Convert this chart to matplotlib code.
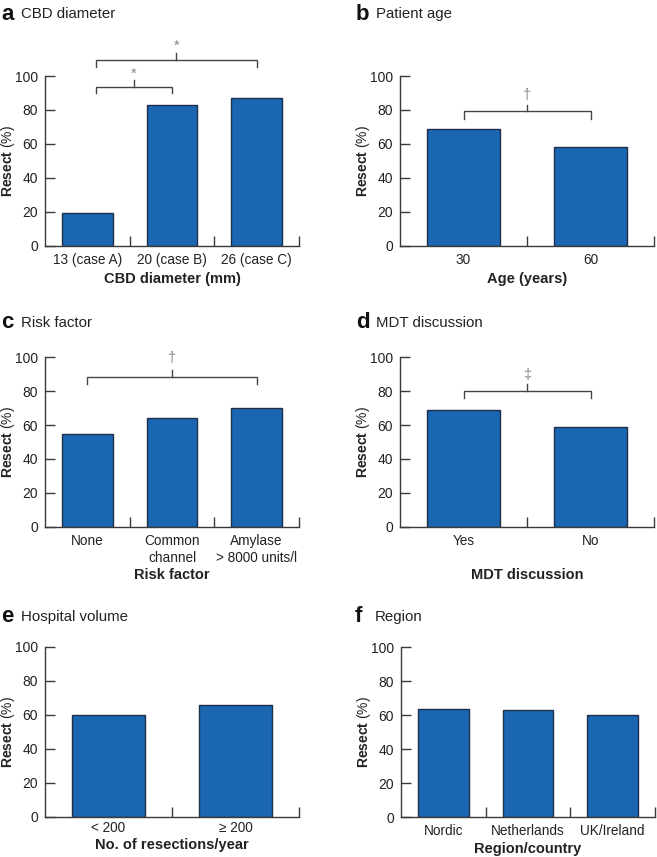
import matplotlib
matplotlib.use("Agg")
import matplotlib.pyplot as plt
from matplotlib.ticker import FixedLocator, NullFormatter, FixedFormatter

plt.rcParams['font.family'] = ['Liberation Sans', 'DejaVu Sans']
plt.rcParams['mathtext.fontset'] = 'custom'
plt.rcParams['mathtext.rm'] = 'Liberation Sans'
plt.rcParams['mathtext.bf'] = 'Liberation Sans:bold'

# ---- data ----
a_cats = ["13 (case A)", "20 (case B)", "26 (case C)"]
a_vals = [19, 83, 87]
b_cats = ["30", "60"]
b_vals = [69, 58]
c_cats = ["None", "Common\nchannel", "Amylase\n> 8000 units/l"]
c_vals = [55, 64, 70]
d_cats = ["Yes", "No"]
d_vals = [69, 59]
e_cats = ["< 200", "\u2265 200"]
e_vals = [60, 66]
f_cats = ["Nordic", "Netherlands", "UK/Ireland"]
f_vals = [64, 63, 60]

titles = ["CBD diameter", "Patient age", "Risk factor", "MDT discussion",
          "Hospital volume", "Region"]
letters = ["a", "b", "c", "d", "e", "f"]
xlabels = ["CBD diameter (mm)", "Age (years)", "Risk factor", "MDT discussion",
           "No. of resections/year", "Region/country"]

# brackets: (x0, x1, y, drop, xmid, tickTop, symbolY, symbol)
brackets = {
    0: [(0.1, 1.0, 93.7, 89.8, 0.55, 97.6, 101.5, "*"),
        (0.1, 2.0, 109.2, 105.5, 1.05, 113.4, 118.0, "*")],
    1: [(0.0, 1.0, 79.4, 74.8, 0.5, 82.9, 88.8, "\u2020")],
    2: [(0.0, 2.0, 88.4, 84.2, 1.0, 92.5, 99.4, "\u2020")],
    3: [(0.0, 1.0, 80.1, 75.8, 0.5, 84.0, 89.5, "\u2021")],
}

W, H = 657, 857
fig = plt.figure(figsize=(W / 100, H / 100), dpi=100)

panels = [(a_cats, a_vals), (b_cats, b_vals), (c_cats, c_vals),
          (d_cats, d_vals), (e_cats, e_vals), (f_cats, f_vals)]
# pixel boxes: left, top(100), bottom(0)
boxes = [(45, 76, 245.7), (400, 76, 245.7),
         (45, 357.3, 526.7), (400, 357.3, 526.7),
         (45, 646.7, 816.7), (401, 647.3, 817.3)]
axw = 254
xlabel_y = [279, 279, 575, 575, 845, 849]
xtick_pad = [5, 5, 5, 5, 3, 5]
title_y = [14, 14, 323, 323, 617, 617]
letter_x = [1, 356, 1, 356, 1, 355]

bar_face = "#1b66b1"
bar_edge = "#1d2f4a"
axcol = "#3a3a3a"
barw = [0.6, 0.58, 0.6, 0.58, 0.58, 0.6]

for i, ((cats, vals), (l, t, b)) in enumerate(zip(panels, boxes)):
    ax = fig.add_axes([l / W, 1 - b / H, axw / W, (b - t) / H])
    n = len(cats)
    xs = list(range(n))
    ax.bar(xs, vals, width=barw[i], color=bar_face, edgecolor=bar_edge,
           linewidth=1.0, zorder=2)
    ax.set_xlim(-0.5, n - 0.5)
    ax.set_ylim(0, 100)
    for s in ["top", "right"]:
        ax.spines[s].set_visible(False)
    for s in ["left", "bottom"]:
        ax.spines[s].set_color(axcol)
        ax.spines[s].set_linewidth(1.0)
    ax.set_yticks([0, 20, 40, 60, 80, 100])
    ax.tick_params(axis='y', direction='in', length=7, width=1.0,
                   color=axcol, labelsize=10, labelcolor="#222222", pad=5)
    ax.xaxis.set_major_locator(FixedLocator([k + 0.5 for k in range(n)]))
    ax.xaxis.set_major_formatter(NullFormatter())
    ax.xaxis.set_minor_locator(FixedLocator(xs))
    ax.xaxis.set_minor_formatter(FixedFormatter(cats))
    ax.tick_params(axis='x', which='major', direction='in', length=7,
                   width=1.0, color=axcol)
    ax.tick_params(axis='x', which='minor', length=0, labelsize=9.8,
                   labelcolor="#222222", pad=xtick_pad[i])
    for lab in ax.get_xticklabels(minor=True):
        lab.set_linespacing(1.3)
    ax.set_ylabel(r"$\mathbf{Resect}$ (%)", fontsize=10, color="#222222")
    ax.yaxis.set_label_coords(-28 / axw, 0.5)
    ax.set_xlabel(xlabels[i], fontsize=10.5, fontweight='bold', color="#222222")
    ax.xaxis.set_label_coords(0.5, -(xlabel_y[i] - b) / (b - t))
    ax.xaxis.label.set_va('center')

    for (x0, x1, y, drop, xm, tt, sy, sym) in brackets.get(i, []):
        ax.plot([x0, x0, x1, x1], [drop, y, y, drop], color="#444444",
                lw=1.0, clip_on=False, solid_joinstyle='miter')
        ax.plot([xm, xm], [y, tt], color="#444444", lw=1.0, clip_on=False)
        ax.text(xm, sy, sym, ha='center', va='center', fontsize=10.5,
                color="#888888", clip_on=False)

    fig.text(letter_x[i] / W, 1 - title_y[i] / H, letters[i], fontsize=16,
             fontweight='bold', va='center', ha='left', color="#111111")
    fig.text((letter_x[i] + 20) / W, 1 - title_y[i] / H, titles[i],
             fontsize=10.8, va='center', ha='left', color="#222222")

fig.savefig("out.png", dpi=100)
